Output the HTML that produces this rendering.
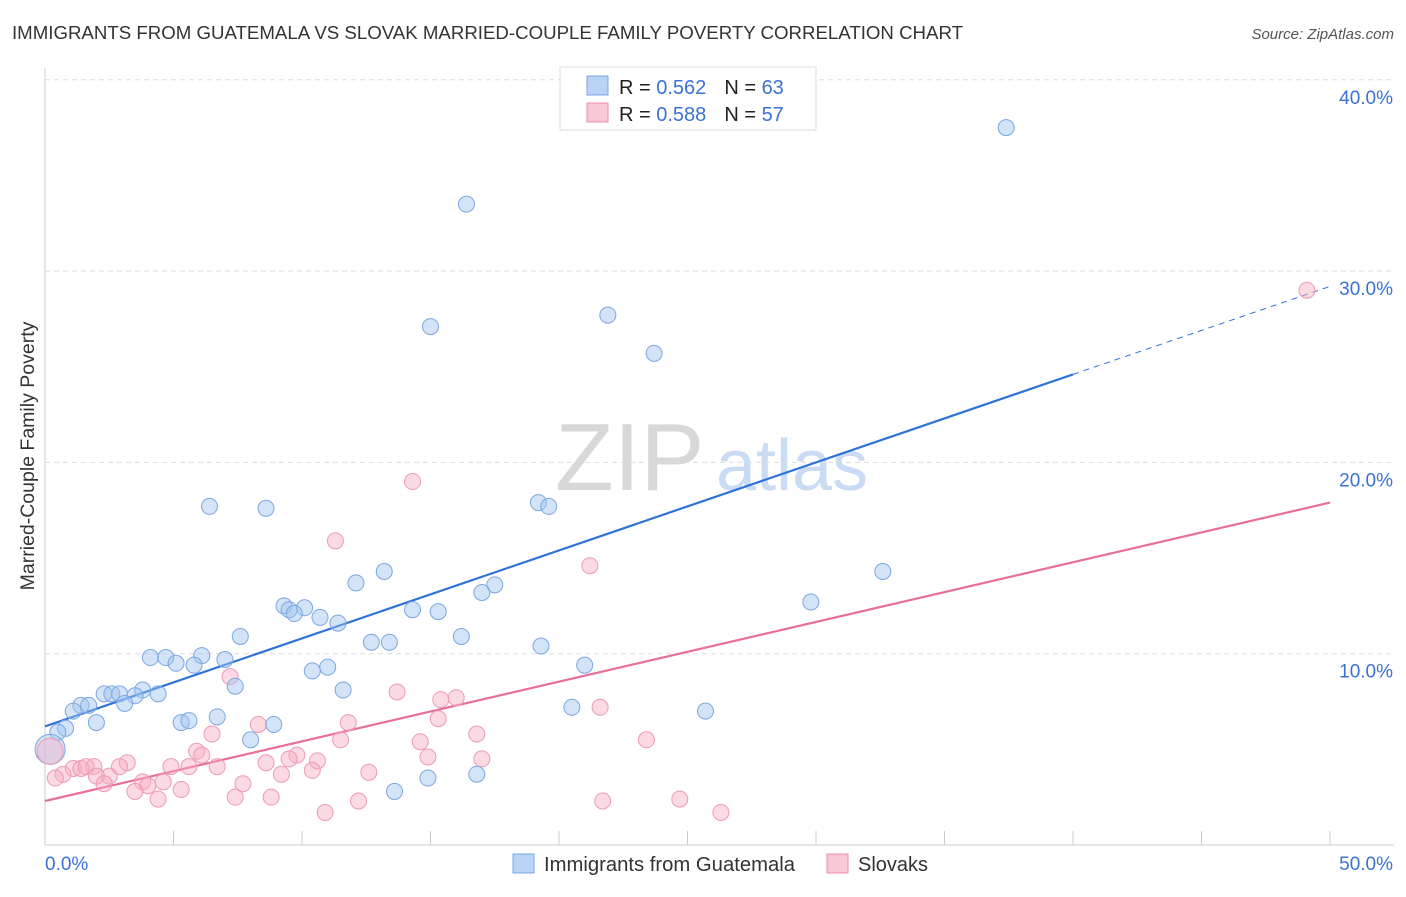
<!DOCTYPE html>
<html><head><meta charset="utf-8"><style>
body{margin:0;background:#fff;font-family:"Liberation Sans",sans-serif;}
svg text{font-family:"Liberation Sans",sans-serif;}
</style></head><body>
<svg id="chart" width="1406" height="892" xmlns="http://www.w3.org/2000/svg">
<text x="12" y="39" font-size="18" fill="#333" textLength="951" lengthAdjust="spacingAndGlyphs">IMMIGRANTS FROM GUATEMALA VS SLOVAK MARRIED-COUPLE FAMILY POVERTY CORRELATION CHART</text>
<text x="1394" y="39" font-size="15" fill="#555" text-anchor="end" font-style="italic">Source: ZipAtlas.com</text>
<text transform="translate(34,456) rotate(-90)" font-size="19.5" fill="#333" text-anchor="middle">Married-Couple Family Poverty</text>
<g><text x="555" y="490" font-size="96" fill="#d8d8d8" font-family="Liberation Serif,serif">ZIP</text><text x="716" y="490" font-size="72" fill="#c9dcf3">atlas</text></g>
<g id="grid"></g><g id="axes"></g><g id="trends"></g><g id="points"></g>
<g>
<rect x="560" y="67" width="256" height="63" fill="#fff" stroke="#ddd"/>
<rect x="587" y="76" width="21" height="19" fill="#b9d3f5" stroke="#7aa7e6"/>
<text x="619" y="94" font-size="20" fill="#222">R = <tspan fill="#3b72d6">0.562</tspan><tspan dx="18">N = </tspan><tspan fill="#3b72d6">63</tspan></text>
<rect x="587" y="103" width="21" height="19" fill="#f9c8d6" stroke="#ec8fab"/>
<text x="619" y="121" font-size="20" fill="#222">R = <tspan fill="#3b72d6">0.588</tspan><tspan dx="18">N = </tspan><tspan fill="#3b72d6">57</tspan></text>
</g>
<g>
<rect x="513" y="854" width="21" height="19" fill="#b9d3f5" stroke="#7aa7e6"/>
<text x="544" y="871" font-size="20" fill="#333" textLength="251" lengthAdjust="spacingAndGlyphs">Immigrants from Guatemala</text>
<rect x="827" y="854" width="21" height="19" fill="#f9c8d6" stroke="#ec8fab"/>
<text x="858" y="871" font-size="20" fill="#333">Slovaks</text>
</g>
</svg>
<script>
const yTicks=[10,20,30,40];
const xTickLabels=["0.0%","50.0%"];
const blueX=[37.4,16.4,15.0,21.9,23.7,6.4,8.6,19.2,19.6,32.6,29.8,13.2,12.1,17.5,17.0,9.3,9.5,10.1,9.7,10.7,11.4,14.3,15.3,7.6,16.2,12.7,13.4,19.3,4.1,4.7,5.1,6.1,7.0,5.8,10.4,11.0,21.0,7.4,11.6,3.8,4.4,2.3,2.6,2.9,3.5,3.1,1.4,1.1,1.7,2.0,5.3,5.6,6.7,8.9,20.5,25.7,0.8,0.5,8.0,16.8,14.9,13.6];
const blueY=[37.5,33.5,27.1,27.7,25.7,17.7,17.6,17.9,17.7,14.3,12.7,14.3,13.7,13.6,13.2,12.5,12.3,12.4,12.1,11.9,11.6,12.3,12.2,10.9,10.9,10.6,10.6,10.4,9.8,9.8,9.5,9.9,9.7,9.4,9.1,9.3,9.4,8.3,8.1,8.1,7.9,7.9,7.9,7.9,7.8,7.4,7.3,7.0,7.3,6.4,6.4,6.5,6.7,6.3,7.2,7.0,6.1,5.9,5.5,3.7,3.5,2.8];
const pinkX=[49.1,14.3,11.3,21.2,7.2,13.7,15.4,16.0,21.6,15.3,11.8,8.3,6.5,16.8,11.5,23.4,14.6,5.9,9.8,9.5,10.6,14.9,17.0,6.1,3.2,1.9,1.1,1.4,1.6,2.9,4.9,5.6,6.7,8.6,10.4,12.6,0.7,9.2,2.5,2.0,3.8,4.6,4.0,2.3,5.3,7.7,3.5,4.4,7.4,8.8,12.2,21.7,24.7,10.9,26.3,0.4];
const pinkY=[29.0,19.0,15.9,14.6,8.8,8.0,7.6,7.7,7.2,6.6,6.4,6.3,5.8,5.8,5.5,5.5,5.4,4.9,4.7,4.5,4.4,4.6,4.5,4.7,4.3,4.1,4.0,4.0,4.1,4.1,4.1,4.1,4.1,4.3,3.9,3.8,3.7,3.7,3.6,3.6,3.3,3.3,3.1,3.2,2.9,3.2,2.8,2.4,2.5,2.5,2.3,2.3,2.4,1.7,1.7,3.5];
const blueTrend=[6.2,24.6];const blueTrendEnd=[40,50];
const pinkTrend=[2.3,17.9];
const NS="http://www.w3.org/2000/svg";
const xs=v=>45+v*25.7, ys=v=>845-v*19.13;
function mk(p,t,a){const e=document.createElementNS(NS,t);for(const k in a)e.setAttribute(k,a[k]);p.appendChild(e);return e;}
const grid=document.getElementById('grid');
yTicks.forEach(t=>{
 const l=mk(grid,'line',{x1:45,x2:1394,y1:ys(t),y2:ys(t),stroke:'#ddd','stroke-dasharray':'5,4'});
 
 
 const tx=mk(grid,'text',{x:1393,y:ys(t)+24,'font-size':19,fill:'#3b72d6','text-anchor':'end'});
 tx.textContent=t.toFixed(1)+'%';
 
 
});
const axes=document.getElementById('axes');
mk(axes,'line',{x1:45,x2:45,y1:68,y2:845,stroke:'#ccc'});
mk(axes,'line',{x1:45,x2:1394,y1:845,y2:845,stroke:'#ccc'});
for(let i=0;i<=10;i++){const t=mk(axes,'line',{x1:xs(i*5),x2:xs(i*5),y1:831,y2:845,stroke:'#ccc'});
 
 }
const xl0=mk(axes,'text',{x:45,y:870,'font-size':19,fill:'#3b72d6'});xl0.textContent=xTickLabels[0];


const xl1=mk(axes,'text',{x:1393,y:870,'font-size':19,fill:'#3b72d6','text-anchor':'end'});xl1.textContent=xTickLabels[1];


const pts=document.getElementById('points');
function draw(X,Y,fill,stroke,name){X.forEach((x,i)=>{const c=mk(pts,'circle',{cx:xs(x),cy:ys(Y[i]),r:8,fill:fill,stroke:stroke,'stroke-width':1});
 
 });}
draw(pinkX,pinkY,'rgba(246,172,196,0.45)','#ee9ab4','point-slovaks');
draw(blueX,blueY,'rgba(160,196,240,0.45)','#7ba6e2','point-guatemala');
const bigB=mk(pts,'circle',{cx:xs(0.2),cy:ys(5.0),r:15,fill:'rgba(160,196,240,0.45)',stroke:'#7ba6e2'});


const bigP=mk(pts,'circle',{cx:xs(0.2),cy:ys(4.9),r:13,fill:'rgba(246,172,196,0.4)',stroke:'#ee9ab4'});


const tr=document.getElementById('trends');
const slope=(blueTrend[1]-blueTrend[0])/40;
const b1=mk(tr,'line',{x1:xs(0),y1:ys(blueTrend[0]),x2:xs(blueTrendEnd[0]),y2:ys(blueTrend[1]),stroke:'#2f73d8','stroke-width':2.2});


const b2=mk(tr,'line',{x1:xs(blueTrendEnd[0]),y1:ys(blueTrend[1]),x2:xs(blueTrendEnd[1]),y2:ys(blueTrend[0]+slope*blueTrendEnd[1]),stroke:'#2f73d8','stroke-width':1,'stroke-dasharray':'6,5'});


const p1=mk(tr,'line',{x1:xs(0),y1:ys(pinkTrend[0]),x2:xs(50),y2:ys(pinkTrend[1]),stroke:'#e86f98','stroke-width':2.2});


</script>
</body></html>
